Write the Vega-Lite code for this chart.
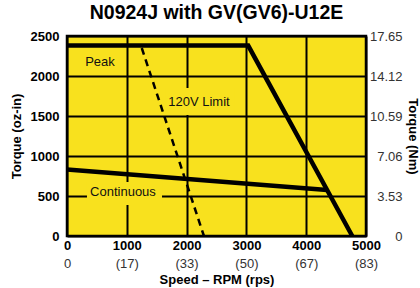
{
  "$schema": "https://vega.github.io/schema/vega-lite/v6.json",
  "width": 299,
  "height": 200,
  "autosize": {"type": "none"},
  "padding": {"left": 67, "top": 36, "right": 54, "bottom": 52},
  "background": "white",
  "title": {"text": "N0924J with GV(GV6)-U12E", "fontSize": 19.5, "fontWeight": "bold", "font": "Liberation Sans", "color": "black", "anchor": "middle", "offset": 7},
  "config": {
    "view": {"fill": "#F8E11E", "stroke": "black", "strokeWidth": 2.5},
    "font": "Liberation Sans"
  },
  "datasets": {
    "curves": [
      {"series": "Peak", "speed": 0, "torque": 2380},
      {"series": "Peak", "speed": 3030, "torque": 2380},
      {"series": "Peak", "speed": 4770, "torque": 0},
      {"series": "Continuous", "speed": 0, "torque": 830},
      {"series": "Continuous", "speed": 4350, "torque": 575},
      {"series": "120V Limit", "speed": 1250, "torque": 2350},
      {"series": "120V Limit", "speed": 2290, "torque": 0}
    ],
    "labels": [
      {"label": "Peak", "tx": 552, "ty": 2175, "x1": 251, "x2": 886, "y1": 2050, "y2": 2300},
      {"label": "120V Limit", "tx": 2207, "ty": 1680, "x1": 1645, "x2": 2800, "y1": 1512, "y2": 1850},
      {"label": "Continuous", "tx": 936, "ty": 544, "x1": 334, "x2": 1589, "y1": 388, "y2": 675}
    ]
  },
  "resolve": {"axis": {"x": "independent", "y": "independent"}},
  "layer": [
    {
      "data": {"name": "curves"},
      "transform": [{"filter": "datum.series != '120V Limit'"}],
      "mark": {"type": "line", "color": "black", "strokeWidth": 4.5},
      "encoding": {
        "x": {"field": "speed", "type": "quantitative", "scale": {"domain": [0, 5000], "nice": false},
          "axis": {"values": [0, 1000, 2000, 3000, 4000, 5000], "title": null, "grid": true, "gridColor": "black", "gridWidth": 2, "gridOpacity": 1, "domain": false, "ticks": false, "labelFontWeight": "bold", "labelFontSize": 13, "labelColor": "black", "labelPadding": 3, "labelFlush": false, "format": "d"}},
        "y": {"field": "torque", "type": "quantitative", "scale": {"domain": [0, 2500], "nice": false},
          "axis": {"values": [0, 500, 1000, 1500, 2000, 2500], "title": "Torque (oz-in)", "titleFontSize": 13, "titleFontWeight": "bold", "titleColor": "black", "titlePadding": 7, "grid": true, "gridColor": "black", "gridWidth": 2, "gridOpacity": 1, "domain": false, "ticks": false, "labelFontWeight": "bold", "labelFontSize": 13, "labelColor": "black", "labelPadding": 8, "format": "d"}},
        "detail": {"field": "series"}
      }
    },
    {
      "data": {"name": "curves"},
      "transform": [{"filter": "datum.series == '120V Limit'"}],
      "mark": {"type": "line", "color": "black", "strokeWidth": 2.5, "strokeDash": [7, 5]},
      "encoding": {
        "x": {"field": "speed", "type": "quantitative", "axis": null},
        "y": {"field": "torque", "type": "quantitative", "axis": null}
      }
    },
    {
      "data": {"name": "labels"},
      "mark": {"type": "rect", "fill": "#F8E11E"},
      "encoding": {
        "x": {"field": "x1", "type": "quantitative", "axis": null},
        "x2": {"field": "x2"},
        "y": {"field": "y1", "type": "quantitative", "axis": null},
        "y2": {"field": "y2"}
      }
    },
    {
      "data": {"name": "labels"},
      "mark": {"type": "text", "fontSize": 13, "color": "#111"},
      "encoding": {
        "x": {"field": "tx", "type": "quantitative",
          "axis": {"orient": "bottom", "values": [0, 1000, 2000, 3000, 4000, 5000], "labelExpr": "datum.value == 0 ? '0' : '(' + format(datum.value / 60, '.0f') + ')'", "domain": false, "ticks": false, "grid": false, "labelFontSize": 13, "labelColor": "#333", "labelPadding": 21, "labelFlush": false, "title": "Speed – RPM (rps)", "titleFontSize": 13, "titleFontWeight": "bold", "titleColor": "black", "titlePadding": 3}},
        "y": {"field": "ty", "type": "quantitative",
          "axis": {"orient": "right", "values": [0, 500, 1000, 1500, 2000, 2500], "labelExpr": "datum.value == 0 ? '0' : format(datum.value * 0.00706, '.2f')", "domain": false, "ticks": false, "grid": false, "labelFontSize": 13, "labelColor": "#333", "labelAlign": "right", "labelPadding": 36, "title": "Torque (Nm)", "titleFontSize": 13, "titleFontWeight": "bold", "titleColor": "black", "titlePadding": 3}},
        "text": {"field": "label"}
      }
    }
  ]
}
